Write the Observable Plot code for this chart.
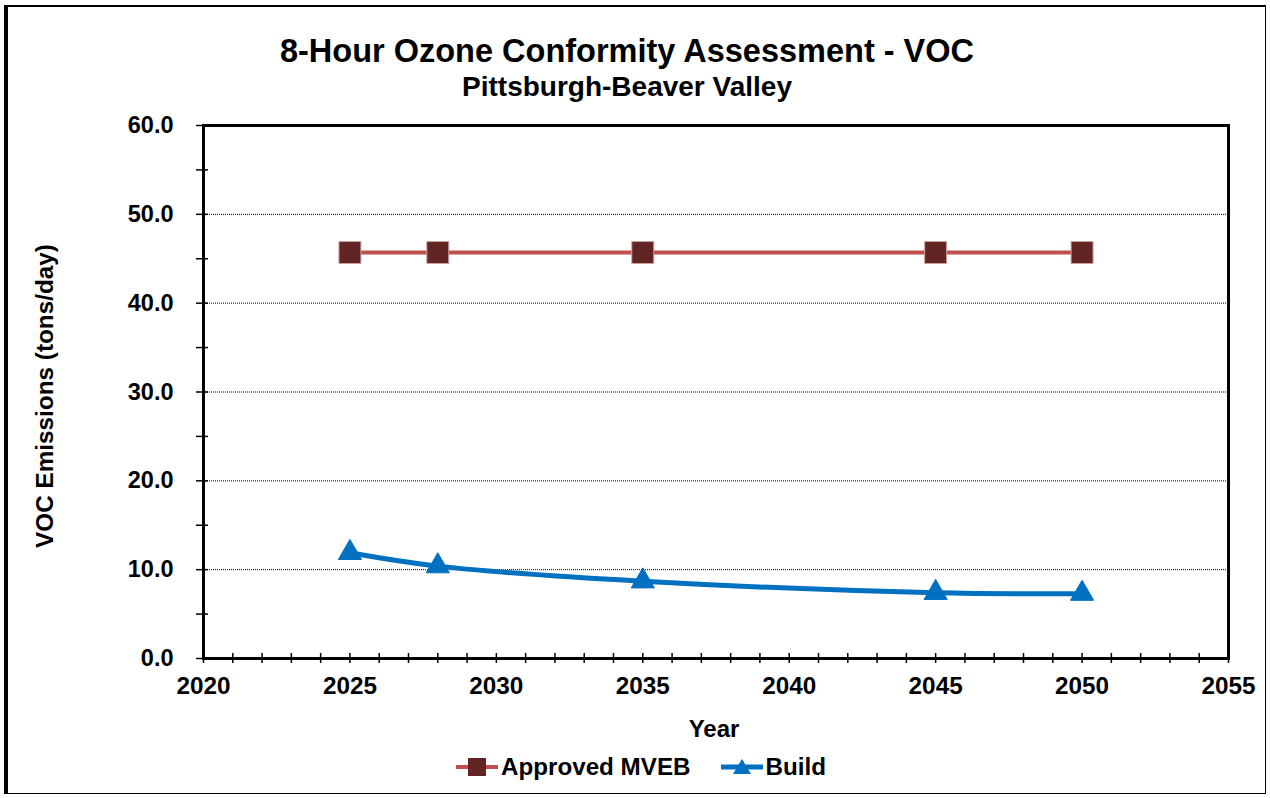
<!DOCTYPE html>
<html>
<head>
<meta charset="utf-8">
<script src="https://cdn.jsdelivr.net/npm/d3@7"></script>
<script src="https://cdn.jsdelivr.net/npm/@observablehq/plot@0.6"></script>
<style>
  body { margin: 0; background: #fff; }
  #wrap { position: relative; width: 1270px; height: 798px; font-family: "Liberation Sans", Arial, sans-serif; font-weight: bold; color: #000; }
  #border { position: absolute; left: 4px; top: 5px; width: 1262px; height: 789px; border-left: 4px solid #000; border-top: 2px solid #000; border-right: 1px solid #000; border-bottom: 1px solid #000; box-sizing: border-box; }
  .t { position: absolute; white-space: nowrap; }
  #title { left: 627px; top: 51px; font-size: 32.5px; transform: translate(-50%, -50%); }
  #subtitle { left: 627px; top: 87px; font-size: 28px; transform: translate(-50%, -50%); }
  #ylabel { left: 45px; top: 396px; font-size: 24.3px; transform: translate(-50%, -50%) rotate(-90deg); }
  #xlabel { left: 714px; top: 729px; font-size: 24px; transform: translate(-50%, -50%); }
  #chart { position: absolute; left: 0; top: 100px; }
  #legend { position: absolute; left: 455px; top: 753px; display: flex; align-items: center; font-size: 24.2px; }
  #legend .item { display: flex; align-items: center; }
  #legend svg { display: block; }
</style>
</head>
<body>
<div id="wrap">
  <div id="border"></div>
  <div class="t" id="title">8-Hour Ozone Conformity Assessment - VOC</div>
  <div class="t" id="subtitle">Pittsburgh-Beaver Valley</div>
  <div class="t" id="ylabel">VOC Emissions (tons/day)</div>
  <div class="t" id="xlabel">Year</div>
  <div id="chart"></div>
  <div id="legend"></div>
</div>
<script>
const years = [2025, 2028, 2035, 2045, 2050];
const mveb = [45.7, 45.7, 45.7, 45.7, 45.7];
const build = [11.9, 10.4, 8.7, 7.4, 7.3];
const seriesNames = ["Approved MVEB", "Build"];
const xTicks = [2020, 2025, 2030, 2035, 2040, 2045, 2050, 2055];
const yTicks = [0, 10, 20, 30, 40, 50, 60];

const mvebData = years.map((y, i) => ({year: y, value: mveb[i]}));
const buildData = years.map((y, i) => ({year: y, value: build[i]}));

const minorX = d3.range(2020, 2056, 1);
const minorY = d3.range(0, 61, 5);
const blank = () => "";

const chart = Plot.plot({
  width: 1270,
  height: 648,
  marginLeft: 203,
  marginRight: 42,
  marginTop: 25,
  marginBottom: 90,
  style: {fontFamily: '"Liberation Sans", Arial, sans-serif', fontWeight: "bold", color: "#000", background: "transparent"},
  x: {domain: [2020, 2055]},
  y: {domain: [0, 60]},
  marks: [
    Plot.gridY([10, 20, 30, 40, 50], {stroke: "#000", strokeOpacity: 1, strokeWidth: 1, strokeDasharray: "1,1"}),
    Plot.line(mvebData, {x: "year", y: "value", stroke: "#C0504D", strokeWidth: 4}),
    Plot.line(buildData, {x: "year", y: "value", stroke: "#0070C0", strokeWidth: 5, curve: "catmull-rom"}),
    Plot.dot(mvebData, {x: "year", y: "value", symbol: "square", r: 12.4, fill: "#632523", stroke: "#c9a3a2", strokeWidth: 1}),
    Plot.dot(buildData, {x: "year", y: "value", symbol: "triangle", r: 8.6, fill: "#0070C0", stroke: "#0070C0", strokeWidth: 1}),
    Plot.frame({stroke: "#000", strokeWidth: 3}),
    Plot.axisX({ticks: minorX, tickSize: 5, tickFormat: blank, label: null, strokeWidth: 1.5}),
    Plot.axisX({ticks: minorX, tickSize: -5, tickFormat: blank, label: null, strokeWidth: 1.5}),
    Plot.axisX({ticks: xTicks, tickSize: 0, tickPadding: 18, tickFormat: d => String(d), label: null, fontSize: 24.3, fontWeight: "bold"}),
    Plot.axisY({ticks: minorY, tickSize: 7, tickFormat: blank, label: null, strokeWidth: 1.5}),
    Plot.axisY({ticks: minorY, tickSize: -5, tickFormat: blank, label: null, strokeWidth: 1.5}),
    Plot.axisY({ticks: yTicks, tickSize: 0, tickPadding: 30, tickFormat: d => d.toFixed(1), label: null, fontSize: 23.5, fontWeight: "bold"})
  ]
});
document.getElementById("chart").appendChild(chart);

// Legend
const legend = document.getElementById("legend");
const legendSpec = [
  {name: seriesNames[0], line: "#C0504D", fill: "#632523", shape: "square"},
  {name: seriesNames[1], line: "#0070C0", fill: "#0070C0", shape: "triangle"}
];
legendSpec.forEach((s, i) => {
  const item = document.createElement("div");
  item.className = "item";
  if (i > 0) item.style.marginLeft = "29px";
  const ns = "http://www.w3.org/2000/svg";
  const svg = document.createElementNS(ns, "svg");
  svg.setAttribute("width", 44);
  svg.setAttribute("height", 26);
  const ln = document.createElementNS(ns, "line");
  ln.setAttribute("x1", 1); ln.setAttribute("x2", 43);
  ln.setAttribute("y1", 13); ln.setAttribute("y2", 13);
  ln.setAttribute("stroke", s.line); ln.setAttribute("stroke-width", s.shape === "square" ? 4 : 5);
  svg.appendChild(ln);
  if (s.shape === "square") {
    const r = document.createElementNS(ns, "rect");
    r.setAttribute("x", 13); r.setAttribute("y", 4); r.setAttribute("width", 18); r.setAttribute("height", 18);
    r.setAttribute("fill", s.fill);
    svg.appendChild(r);
  } else {
    const p = document.createElementNS(ns, "path");
    p.setAttribute("d", "M22,5 L31,20 L13,20 Z");
    p.setAttribute("fill", s.fill);
    svg.appendChild(p);
  }
  item.appendChild(svg);
  const tx = document.createElement("span");
  tx.textContent = s.name;
  tx.style.marginLeft = "2px";
  item.appendChild(tx);
  legend.appendChild(item);
});
</script>
</body>
</html>
